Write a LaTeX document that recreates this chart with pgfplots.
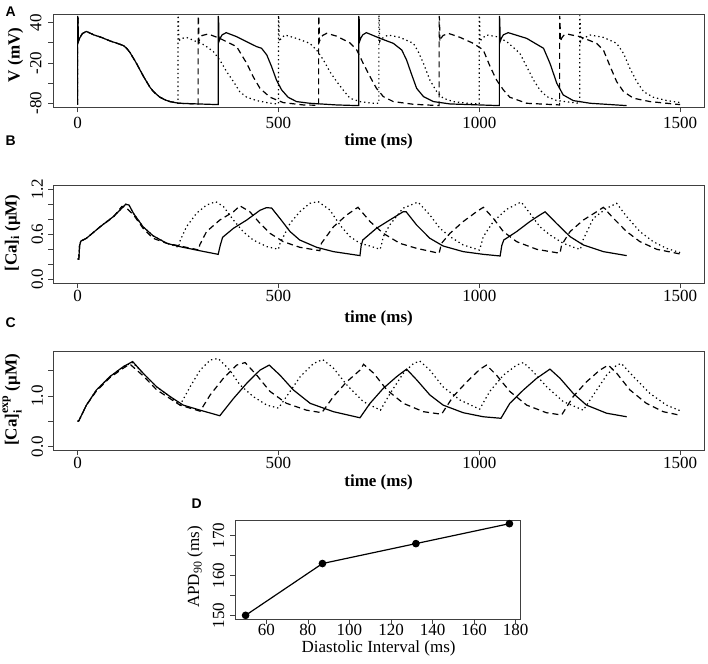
\documentclass[border=0pt]{standalone}
\usepackage{fontspec}
\setmainfont{Liberation Serif}
\newfontfamily\arial{Liberation Sans}
\usepackage{amsmath}
\usepackage{pgfplots}
\pgfplotsset{compat=1.18}
\pgfplotsset{
  rbox/.style={
    scale only axis, anchor=north west,
    axis line style={black!75, line width=0.8pt},
    tick style={black!75, line width=0.8pt},
    tick align=outside, major tick length=5pt,
    xtick pos=bottom, ytick pos=left,
    ticklabel style={font=\fontsize{17}{17}\selectfont, inner sep=0pt},
    yticklabel style={rotate=90, anchor=south},
    xticklabel style={anchor=north},
    every axis plot/.append style={line width=1.2pt, black},
    clip=true,
  },
  tbox/.style={rbox, width=650.7pt, xmin=-60.5, xmax=1559.5,
    xtick={0,500,1000,1500}, xticklabels={0,500,1000,1500}},
  sol/.style={solid},
  dsh/.style={dash pattern=on 6pt off 4pt},
  dot/.style={dash pattern=on 1.3pt off 3pt},
}
\begin{document}
\begin{tikzpicture}
\useasboundingbox (0pt,0pt) rectangle (708pt,-663pt);
% ---------------- Panel A ----------------
\begin{axis}[tbox, at={(53.3pt,-14pt)}, height=93.3pt, ymin=-86, ymax=53,
  ytick={-80,-50,-20,10,40}, yticklabels={-80,,-20,,40},
  xticklabel shift=4.5pt, yticklabel shift=6.5pt]
\addplot[sol] coordinates {(0,-82)(0,50)(1,46)(2,12)(5,17)(12,24)(22,27)(40,22)(60,18)(80,13)(100,9)(114,6)(122,2)(130,-4)(139,-13)(147,-21)(155,-30)(164,-40)(172,-48)(180,-56)(188,-62)(197,-67)(205,-71)(218,-75)(230,-77.5)(252,-80)(300,-81)(350,-82)
(350,50)(351,45)(352,12)(355,17)(360,22)(370,25.2)(396,19.2)(429,9.3)(446,4.3)(458,1.9)(471,-8)(483,-25.4)(495,-45.3)(508,-60.1)(524,-71)(545,-77.5)(578,-80)(645,-82.5)(700,-83.5)
(700,50)(701,45)(702,12)(705,17)(710,22)(719,25.2)(753,16.7)(786,9.3)(807,-0.6)(819,-15.5)(832,-37.8)(844,-57.7)(861,-70)(886,-77.5)(927,-81)(1002,-82.5)(1050,-83.5)
(1050,50)(1051,45)(1052,12)(1055,17)(1060,22)(1072,25.2)(1118,16.7)(1160,1.9)(1176,-20.5)(1193,-50.2)(1209,-67.6)(1234,-76)(1276,-80)(1367,-83.5)};
\addplot[dsh] coordinates {(0,-82)(0,50)(1,46)(2,12)(5,17)(12,24)(22,27)(40,22)(60,18)(80,13)(100,9)(114,6)(122,2)(130,-4)(139,-13)(147,-21)(155,-30)(164,-40)(172,-48)(180,-56)(188,-62)(197,-67)(205,-71)(218,-75)(230,-77.5)(252,-80)(300,-81)
(300,50)(301,45)(302,12)(305,17)(310,21)(325,23.2)(354,16.7)(396,4.3)(421,-20.5)(437,-40.3)(454,-57.7)(479,-71)(512,-79)(562,-82.5)(600,-83)
(600,50)(601,45)(602,12)(605,17)(610,21)(620,24.2)(645,20)(678,10)(695,-0.6)(711,-20.5)(728,-40.3)(744,-57.7)(761,-70)(786,-77.5)(836,-81.5)(900,-83.5)
(900,50)(901,45)(902,12)(905,17)(910,21)(923,24.2)(952,18.2)(985,9.3)(1010,-0.6)(1027,-25.4)(1043,-45.3)(1060,-60.1)(1076,-71)(1118,-80)(1200,-82.5)
(1200,50)(1201,45)(1202,12)(1205,17)(1210,21)(1218,23.2)(1251,19.2)(1292,9.3)(1309,-0.6)(1326,-25.4)(1342,-47.7)(1359,-62.6)(1384,-72.5)(1425,-77.5)(1500,-82)};
\addplot[dot] coordinates {(0,-82)(0,50)(1,46)(2,12)(5,17)(12,24)(22,27)(40,22)(60,18)(80,13)(100,9)(114,6)(122,2)(130,-4)(139,-13)(147,-21)(155,-30)(164,-40)(172,-48)(180,-56)(188,-62)(197,-67)(205,-71)(218,-75)(230,-77.5)(250,-80)
(250,51)(251,45)(252,12)(256,16)(271,18.2)(315,7)(338,-3)(354,-15.5)(371,-32.9)(388,-47.7)(404,-63)(421,-71)(446,-76)(479,-80)(500,-81)
(500,51)(501,45)(502,12)(506,16)(516,21.7)(545,16.7)(578,9.3)(595,-0.6)(612,-15.5)(628,-32.9)(645,-47.7)(661,-60.1)(678,-72.5)(703,-77.5)(736,-80)(750,-80)
(750,51)(751,45)(752,12)(756,16)(773,21.7)(802,18.2)(836,9.3)(848,-3.1)(861,-20.5)(877,-45.3)(894,-62.6)(910,-72.5)(935,-77.5)(969,-80)(1000,-81)
(1000,51)(1001,45)(1002,12)(1006,16)(1018,21.7)(1043,19.2)(1068,12)(1085,3)(1101,-5.6)(1118,-25.4)(1135,-45.3)(1151,-60.1)(1168,-70)(1193,-76)(1226,-78.5)(1250,-80)
(1250,51)(1251,45)(1252,12)(1256,16)(1276,21.7)(1309,18.2)(1342,9.3)(1359,-5.6)(1375,-27.9)(1392,-47.7)(1409,-62.6)(1433,-71)(1467,-76)(1500,-79)};
\end{axis}
% ---------------- Panel B ----------------
\begin{axis}[tbox, at={(53.3pt,-185pt)}, height=98.3pt, ymin=-0.053, ymax=1.257,
  ytick={0,0.2,0.4,0.6,0.8,1.0,1.2}, yticklabels={0.0,,,0.6,,,1.2},
  xticklabel shift=1.5pt, yticklabel shift=5pt]
\addplot[sol] coordinates {(0,0.27)(3,0.27)(5,0.45)(8,0.51)(22,0.547)(56,0.70)(89,0.836)(114,0.97)(120,1.0)(128,0.99)(139,0.88)(163,0.70)(188,0.58)(222,0.48)(255,0.435)(305,0.38)(350,0.333)(355,0.45)(361,0.56)(388,0.68)(421,0.79)(454,0.92)(470,0.955)(483,0.95)(504,0.81)(529,0.636)(553,0.524)(595,0.427)(637,0.369)(703,0.316)(706,0.45)(710,0.524)(744,0.68)(777,0.79)(811,0.902)(818,0.90)(844,0.724)(877,0.547)(910,0.444)(960,0.369)(1010,0.333)(1052,0.311)(1056,0.45)(1061,0.524)(1093,0.636)(1126,0.77)(1151,0.858)(1164,0.90)(1192,0.747)(1226,0.569)(1259,0.458)(1309,0.369)(1367,0.316)};
\addplot[dsh] coordinates {(0,0.27)(3,0.27)(5,0.45)(8,0.51)(22,0.547)(56,0.70)(89,0.83)(110,0.97)(118,0.97)(139,0.86)(163,0.68)(188,0.547)(222,0.48)(255,0.444)(302,0.391)(304,0.458)(321,0.636)(354,0.79)(388,0.90)(404,0.98)(429,0.90)(454,0.747)(479,0.613)(512,0.502)(553,0.427)(603,0.382)(607,0.48)(637,0.70)(670,0.858)(698,0.96)(728,0.77)(761,0.613)(802,0.48)(844,0.413)(900,0.347)(906,0.48)(927,0.613)(960,0.77)(993,0.90)(1010,0.96)(1035,0.813)(1060,0.636)(1093,0.502)(1143,0.40)(1201,0.347)(1205,0.458)(1226,0.636)(1259,0.79)(1292,0.90)(1309,0.96)(1334,0.813)(1367,0.636)(1400,0.502)(1442,0.40)(1500,0.338)};
\addplot[dot] coordinates {(0,0.27)(3,0.27)(5,0.45)(8,0.51)(22,0.547)(56,0.70)(89,0.836)(114,0.97)(120,1.0)(128,0.99)(139,0.88)(163,0.70)(188,0.58)(222,0.48)(252,0.427)(254,0.50)(271,0.70)(296,0.88)(321,0.99)(344,1.035)(363,0.97)(388,0.79)(412,0.636)(437,0.524)(471,0.436)(500,0.40)(504,0.48)(529,0.747)(553,0.90)(578,1.013)(599,1.035)(628,0.924)(653,0.724)(678,0.569)(703,0.48)(728,0.444)(753,0.40)(756,0.45)(761,0.569)(777,0.724)(810,0.947)(844,1.022)(848,1.027)(877,0.858)(902,0.68)(927,0.569)(960,0.458)(1000,0.39)(1004,0.45)(1010,0.569)(1035,0.77)(1068,0.933)(1101,1.022)(1105,1.027)(1126,0.88)(1151,0.70)(1176,0.591)(1209,0.48)(1242,0.413)(1252,0.40)(1256,0.50)(1284,0.813)(1317,0.947)(1342,1.013)(1367,0.836)(1400,0.636)(1433,0.502)(1466,0.413)(1500,0.356)};
\end{axis}
% ---------------- Panel C ----------------
\begin{axis}[tbox, at={(53.3pt,-351.7pt)}, height=98.3pt, ymin=-0.066, ymax=1.874,
  ytick={0,0.5,1.0,1.5}, yticklabels={0.0,,1.0,},
  xticklabel shift=2pt, yticklabel shift=5pt]
\addplot[sol] coordinates {(0,0.5)(3,0.51)(22,0.82)(47,1.12)(80,1.38)(114,1.58)(137,1.68)(163,1.45)(197,1.18)(230,0.99)(263,0.82)(305,0.72)(354,0.61)(388,0.95)(421,1.25)(454,1.51)(477,1.61)(504,1.41)(537,1.12)(579,0.855)(637,0.69)(703,0.57)(728,0.855)(761,1.15)(794,1.38)(819,1.53)(844,1.32)(877,1.02)(910,0.82)(960,0.67)(1010,0.59)(1054,0.56)(1076,0.855)(1110,1.12)(1143,1.35)(1176,1.53)(1201,1.35)(1234,1.05)(1267,0.82)(1317,0.66)(1367,0.59)};
\addplot[dsh] coordinates {(0,0.5)(3,0.51)(22,0.82)(47,1.10)(80,1.36)(114,1.55)(130,1.63)(163,1.40)(197,1.12)(255,0.82)(305,0.70)(330,1.02)(363,1.35)(396,1.61)(417,1.66)(446,1.41)(479,1.09)(520,0.855)(570,0.72)(608,0.67)(637,0.99)(670,1.28)(703,1.51)(712,1.625)(737,1.45)(770,1.12)(811,0.855)(861,0.69)(906,0.64)(935,0.99)(969,1.28)(1002,1.53)(1018,1.61)(1043,1.41)(1076,1.09)(1118,0.82)(1167,0.67)(1205,0.625)(1234,0.99)(1267,1.28)(1300,1.51)(1321,1.61)(1342,1.45)(1375,1.12)(1416,0.855)(1458,0.69)(1500,0.62)};
\addplot[dot] coordinates {(0,0.5)(3,0.51)(22,0.82)(47,1.12)(80,1.38)(114,1.58)(137,1.66)(163,1.45)(197,1.18)(230,0.99)(255,0.82)(280,1.18)(305,1.51)(330,1.71)(350,1.74)(379,1.51)(404,1.22)(437,0.99)(471,0.82)(500,0.76)(529,1.09)(554,1.38)(587,1.64)(610,1.72)(637,1.55)(670,1.22)(711,0.89)(754,0.72)(778,1.05)(811,1.45)(836,1.64)(852,1.69)(877,1.51)(910,1.18)(952,0.92)(1001,0.74)(1026,1.09)(1060,1.41)(1093,1.61)(1110,1.66)(1134,1.48)(1168,1.18)(1209,0.89)(1259,0.72)(1284,1.02)(1317,1.41)(1342,1.61)(1354,1.64)(1384,1.38)(1425,1.05)(1466,0.82)(1500,0.71)};
\end{axis}
% ---------------- Panel D ----------------
\begin{axis}[rbox, at={(235pt,-520pt)}, width=285pt, height=99pt,
  xmin=44.9, xmax=182.1, ymin=149.08, ymax=173.92,
  xtick={60,80,100,120,140,160,180}, xticklabels={60,80,100,120,140,160,180},
  ytick={150,155,160,165,170}, yticklabels={150,,160,,170},
  xticklabel shift=0pt, yticklabel shift=5.5pt]
\addplot[sol, mark=*, mark size=3.2pt, mark options={solid}] coordinates {(50,150)(87,163)(132,168)(177,173)};
\end{axis}
% ---------------- Labels ----------------
\begin{scope}[every node/.style={inner sep=0pt}]
\node[anchor=base west, font=\arial\bfseries\fontsize{14}{14}\selectfont] at (5.5pt,-16.7pt) {A};
\node[anchor=base west, font=\arial\bfseries\fontsize{14}{14}\selectfont] at (5.5pt,-145.5pt) {B};
\node[anchor=base west, font=\arial\bfseries\fontsize{14}{14}\selectfont] at (5.5pt,-327pt) {C};
\node[anchor=base west, font=\arial\bfseries\fontsize{14}{14}\selectfont] at (191.5pt,-508pt) {D};
\node[font=\bfseries\fontsize{17}{17}\selectfont] at (378.6pt,-141pt) {time (ms)};
\node[font=\bfseries\fontsize{17}{17}\selectfont] at (378.6pt,-318pt) {time (ms)};
\node[font=\bfseries\fontsize{17}{17}\selectfont] at (378.6pt,-482pt) {time (ms)};
\node[font=\fontsize{17}{17}\selectfont] at (378.6pt,-648pt) {Diastolic Interval (ms)};
\node[rotate=90, font=\bfseries\fontsize{17}{17}\selectfont] at (15.5pt,-55pt) {V (mV)};
\node[rotate=90, font=\bfseries\fontsize{17}{17}\selectfont] at (12.5pt,-233pt) {[Ca]$_{\text{i}}$ (μM)};
\node[rotate=90, font=\bfseries\fontsize{17}{17}\selectfont] at (12pt,-400pt) {[Ca]$_{\text{i}}^{\text{exp}}$ (μM)};
\node[rotate=90, font=\fontsize{17}{17}\selectfont] at (195pt,-567pt) {APD$_{\text{90}}$ (ms)};
\end{scope}
\end{tikzpicture}
\end{document}
